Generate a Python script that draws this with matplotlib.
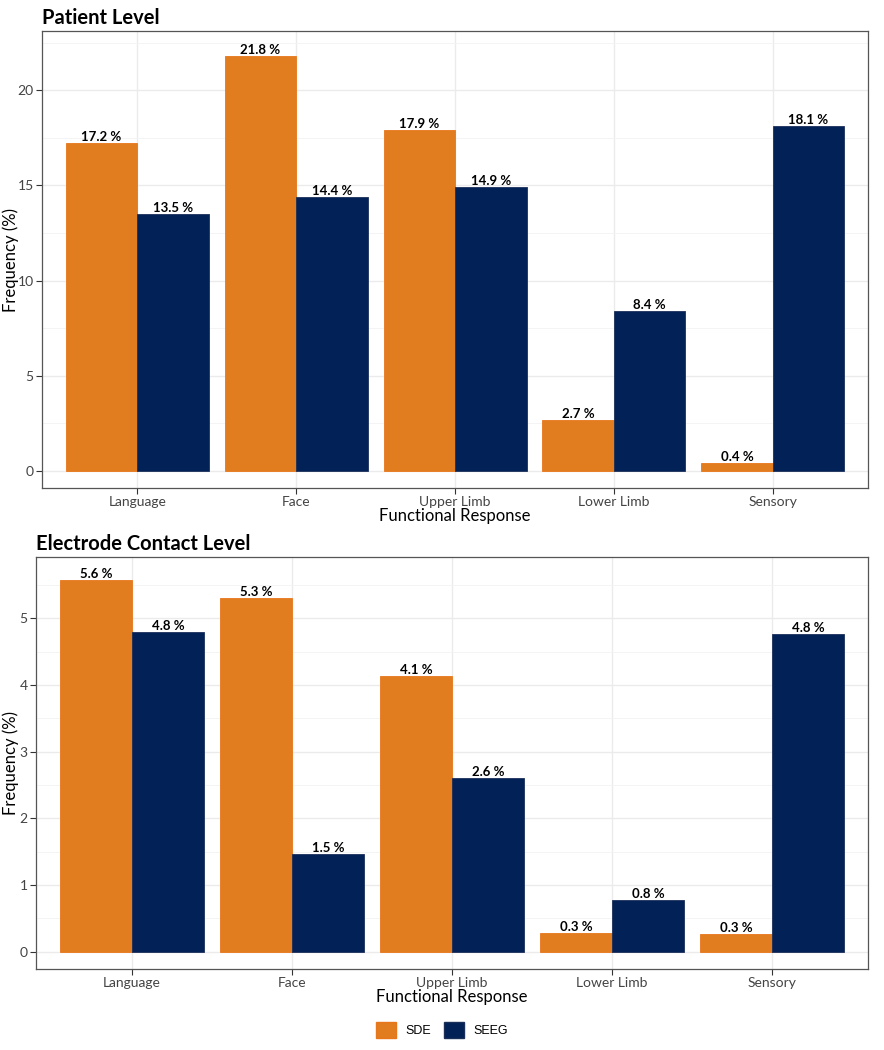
import matplotlib
matplotlib.use("Agg")
import matplotlib.pyplot as plt
import numpy as np
from matplotlib.patches import Patch

plt.rcParams['font.family'] = ['Lato', 'DejaVu Sans']

# ==== Data ====
categories = ["Language", "Face", "Upper Limb", "Lower Limb", "Sensory"]
groups = ["SDE", "SEEG"]

patient_sde = [17.2, 21.8, 17.9, 2.7, 0.4]
patient_seeg = [13.5, 14.4, 14.9, 8.4, 18.1]

contact_sde = [5.58, 5.30, 4.13, 0.28, 0.26]
contact_seeg = [4.79, 1.46, 2.61, 0.77, 4.76]

COLORS = {"SDE": "#E17C1F", "SEEG": "#022157"}
EDGES = {"SDE": "#E8761A", "SEEG": "#1A2F5A"}


# ==== Function: draw_panel ====
def draw_panel(ax, sde, seeg, title, major, minor, ylim, ylab_x):
    x = np.arange(1, len(categories) + 1)
    w = 0.45
    for vals, off, grp in [(sde, -w / 2, "SDE"), (seeg, w / 2, "SEEG")]:
        ax.bar(x + off, vals, width=w, color=COLORS[grp], edgecolor=EDGES[grp],
               linewidth=0.6, zorder=3)
        for xi, v in zip(x + off, vals):
            ax.text(xi, v, f"{v:.1f} %", ha='center', va='bottom',
                    fontsize=9.5, fontweight='bold', color='black', zorder=4)

    ax.set_ylim(*ylim)
    ax.set_xlim(0.4, 5.6)
    ax.set_xticks(x)
    ax.set_xticklabels(categories, fontsize=10, color='#444444')
    ax.set_yticks(major)
    ax.set_yticklabels([f"{m:g}" for m in major], fontsize=10, color='#444444')
    ax.set_yticks(minor, minor=True)
    ax.set_xticks(x[:-1] + 0.5, minor=True)
    ax.grid(which='major', color='#EBEBEB', linewidth=1.0, zorder=0)
    ax.grid(which='minor', axis='y', color='#F3F3F3', linewidth=0.6, zorder=0)
    ax.tick_params(which='minor', length=0)
    ax.tick_params(which='major', length=4, color='#333333', pad=2)
    for s in ax.spines.values():
        s.set_color('#555555')
        s.set_linewidth(0.9)
    ax.set_xlabel("Functional Response", fontsize=12, labelpad=0)
    ax.set_ylabel("Frequency (%)", fontsize=12)
    ax.yaxis.set_label_coords(ylab_x, 0.5)
    ax.set_title(title, loc='left', fontsize=14.5, fontweight='bold', x=0.0, pad=5)


fig = plt.figure(figsize=(8.84, 10.5), dpi=100)
ax1 = fig.add_axes([0.0475, 0.5352, 0.9345, 0.4352])
ax2 = fig.add_axes([0.0407, 0.0771, 0.9412, 0.3924])

draw_panel(ax1, patient_sde, patient_seeg, "Patient Level",
           [0, 5, 10, 15, 20], [2.5, 7.5, 12.5, 17.5, 22.5], (-0.89, 23.1), -0.028)
draw_panel(ax2, contact_sde, contact_seeg, "Electrode Contact Level",
           [0, 1, 2, 3, 4, 5], [0.5, 1.5, 2.5, 3.5, 4.5, 5.5], (-0.26, 5.92), -0.0205)

handles = [Patch(facecolor=COLORS[g], edgecolor=EDGES[g], label=g) for g in groups]
fig.legend(handles=handles, loc='center', bbox_to_anchor=(0.5, 0.019), ncol=2,
           frameon=False, prop={'family': 'Liberation Sans', 'size': 9},
           handlelength=1.6, handleheight=1.6, columnspacing=1.0, handletextpad=0.8)

fig.savefig("out.png", dpi=100)
plt.close(fig)
